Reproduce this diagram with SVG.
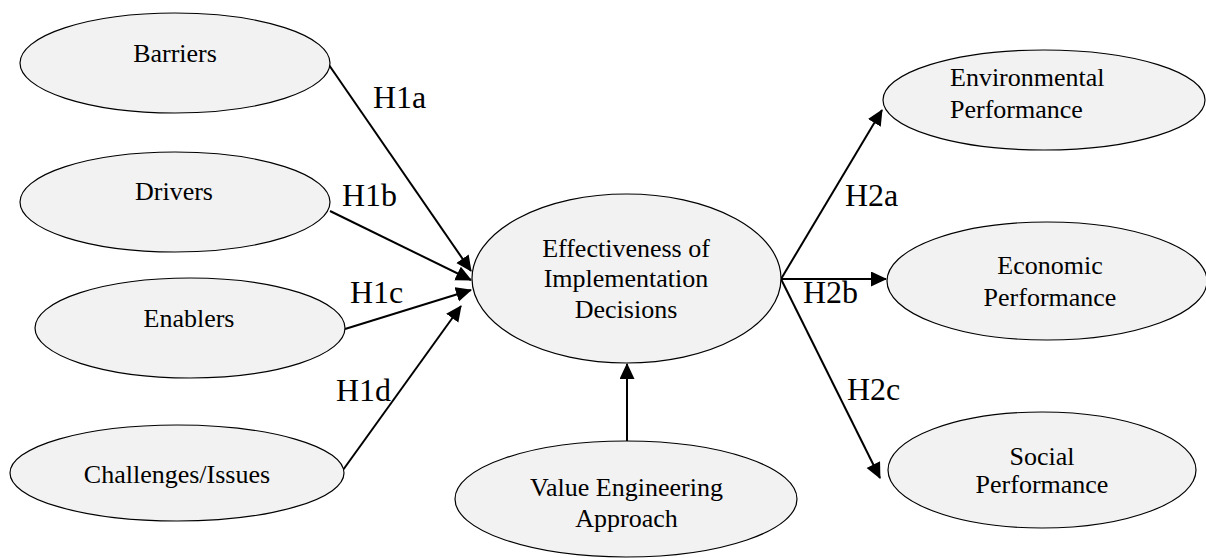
<svg xmlns="http://www.w3.org/2000/svg" width="1206" height="558" viewBox="0 0 1206 558">
  <style>
    .node ellipse { fill: #f2f2f2; stroke: #000; stroke-width: 1.2; }
    .node text { font-family: "Liberation Serif", "Times New Roman", serif; font-size: 26px; fill: #000; text-anchor: middle; }
    .edge { stroke: #000; stroke-width: 2; fill: none; marker-end: url(#arrow); }
    .label { font-family: "Liberation Serif", "Times New Roman", serif; font-size: 32px; fill: #000; }
  </style>
  <defs>
    <marker id="arrow" markerUnits="userSpaceOnUse" markerWidth="17" markerHeight="16" refX="15" refY="7.5" orient="auto">
      <path d="M0,0 L16,7.5 L0,15 Z" fill="#000"/>
    </marker>
  </defs>
  <rect width="1206" height="558" fill="#fff"/>

  <!-- connectors -->
  <g id="connectors">
    <line class="edge" x1="329" y1="65" x2="471" y2="271"/>
    <line class="edge" x1="330" y1="211" x2="471" y2="280"/>
    <line class="edge" x1="345" y1="329" x2="471" y2="290"/>
    <line class="edge" x1="343" y1="470" x2="461" y2="306"/>
    <line class="edge" x1="627" y1="441" x2="627" y2="364"/>
    <line class="edge" x1="781" y1="279" x2="882" y2="110"/>
    <line class="edge" x1="781" y1="279" x2="886" y2="279"/>
    <line class="edge" x1="781" y1="279" x2="880" y2="478"/>
  </g>

  <!-- hypothesis labels -->
  <g id="labels">
    <text class="label" x="373" y="108">H1a</text>
    <text class="label" x="342" y="206">H1b</text>
    <text class="label" x="350" y="303">H1c</text>
    <text class="label" x="336" y="401">H1d</text>
    <text class="label" x="845" y="206">H2a</text>
    <text class="label" x="803" y="303">H2b</text>
    <text class="label" x="847" y="400">H2c</text>
  </g>

  <!-- nodes -->
  <g id="barriers" class="node">
    <ellipse cx="175" cy="63" rx="155" ry="50"/>
    <text x="175" y="62">Barriers</text>
  </g>
  <g id="drivers" class="node">
    <ellipse cx="175" cy="202" rx="155" ry="50"/>
    <text x="174" y="200">Drivers</text>
  </g>
  <g id="enablers" class="node">
    <ellipse cx="190" cy="328" rx="155" ry="50"/>
    <text x="189" y="327">Enablers</text>
  </g>
  <g id="challenges" class="node">
    <ellipse cx="177" cy="473" rx="167" ry="48"/>
    <text x="177" y="483">Challenges/Issues</text>
  </g>
  <g id="effectiveness" class="node">
    <ellipse cx="626.5" cy="278.5" rx="154.5" ry="84.5"/>
    <text x="626" y="257">Effectiveness of</text>
    <text x="626" y="287">Implementation</text>
    <text x="626" y="318">Decisions</text>
  </g>
  <g id="value-engineering" class="node">
    <ellipse cx="626" cy="499" rx="171" ry="58"/>
    <text x="626.5" y="496">Value Engineering</text>
    <text x="626.5" y="527">Approach</text>
  </g>
  <g id="environmental" class="node">
    <ellipse cx="1044" cy="100" rx="161" ry="50"/>
    <text x="950" y="86" style="text-anchor:start">Environmental</text>
    <text x="950" y="118" style="text-anchor:start">Performance</text>
  </g>
  <g id="economic" class="node">
    <ellipse cx="1047" cy="281" rx="160" ry="59"/>
    <text x="1050" y="274">Economic</text>
    <text x="1050" y="306">Performance</text>
  </g>
  <g id="social" class="node">
    <ellipse cx="1042" cy="470" rx="154" ry="58"/>
    <text x="1042" y="465">Social</text>
    <text x="1042" y="493">Performance</text>
  </g>
</svg>
